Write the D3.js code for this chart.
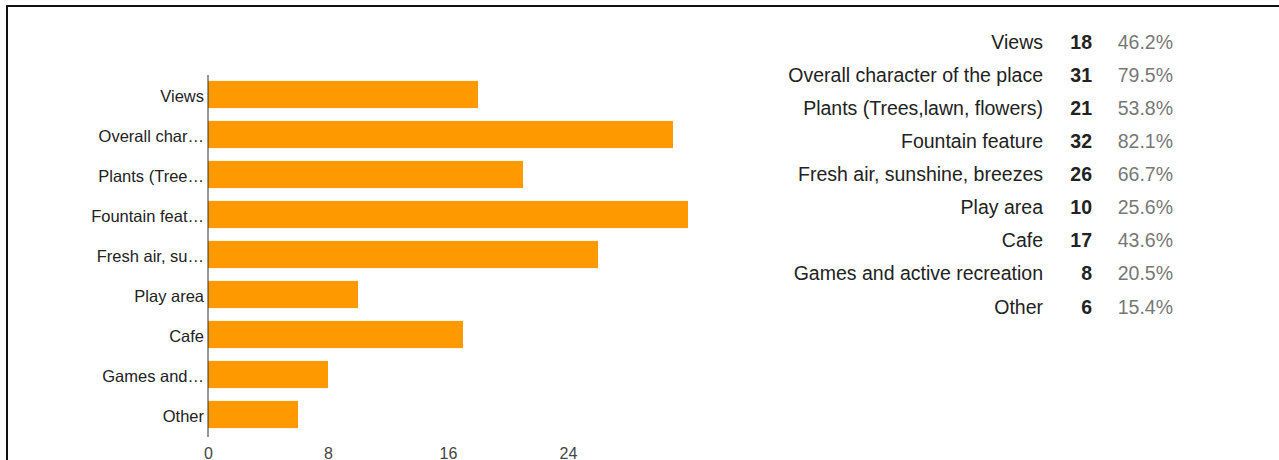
<!DOCTYPE html>
<html>
<head>
<meta charset="utf-8">
<script src="https://d3js.org/d3.v7.min.js"></script>
<style>
  body { margin: 0; background: #fff; }
  text { font-family: Arial, "Liberation Sans", sans-serif; }
</style>
</head>
<body>
<svg id="chart" width="1279" height="460"></svg>
<script>
// answer options (full text for the table, shortened for the axis)
var categories = ["Views", "Overall character of the place", "Plants (Trees,lawn, flowers)",
  "Fountain feature", "Fresh air, sunshine, breezes", "Play area", "Cafe",
  "Games and active recreation", "Other"];
var shortLabels = ["Views", "Overall char\u2026", "Plants (Tree\u2026", "Fountain feat\u2026",
  "Fresh air, su\u2026", "Play area", "Cafe", "Games and\u2026", "Other"];
var counts = [18, 31, 21, 32, 26, 10, 17, 8, 6];
var percents = ["46.2%", "79.5%", "53.8%", "82.1%", "66.7%", "25.6%", "43.6%", "20.5%", "15.4%"];
var xTicks = [0, 8, 16, 24];

var svg = d3.select("#chart");

// frame
svg.append("line").attr("x1", 7).attr("x2", 1279).attr("y1", 6).attr("y2", 6)
  .attr("stroke", "#111").attr("stroke-width", 2);
svg.append("line").attr("x1", 7).attr("x2", 7).attr("y1", 5).attr("y2", 460)
  .attr("stroke", "#111").attr("stroke-width", 2);

var x = d3.scaleLinear().domain([0, 32]).range([208, 688]);
var y = d3.scaleBand().domain(shortLabels).range([74.5, 434.5]).paddingInner(0.32).paddingOuter(0.16);

svg.append("g").selectAll("rect")
  .data(counts)
  .enter().append("rect")
  .attr("x", x(0))
  .attr("y", function(d, i) { return y(shortLabels[i]); })
  .attr("width", function(d) { return x(d) - x(0); })
  .attr("height", y.bandwidth())
  .attr("fill", "#ff9900");

// y axis
var yAxis = svg.append("g")
  .attr("transform", "translate(" + x(0) + ",0)")
  .call(d3.axisLeft(y).tickSize(0).tickPadding(4));
yAxis.select(".domain").attr("stroke", "#333").attr("d", "M0,75V437");
yAxis.selectAll("text").attr("font-size", 16.5).attr("fill", "#222").attr("dy", "0.46em")
  .attr("font-family", "Arial, 'Liberation Sans', sans-serif");

// x axis labels (cut by the bottom edge, as in the original screenshot)
var xAxis = svg.append("g")
  .attr("transform", "translate(0,443)")
  .call(d3.axisBottom(x).tickValues(xTicks).tickSize(0).tickPadding(5));
xAxis.select(".domain").remove();
xAxis.selectAll("text").attr("font-size", 16).attr("fill", "#444")
  .attr("font-family", "Arial, 'Liberation Sans', sans-serif");

// summary table
var rowY = d3.scalePoint().domain(categories).range([49, 313.5]);
var table = svg.append("g");
var rows = table.selectAll("g").data(categories).enter().append("g")
  .attr("transform", function(d) { return "translate(0," + rowY(d) + ")"; });
rows.append("text").attr("x", 1043).attr("text-anchor", "end")
  .attr("font-size", 19.5).attr("fill", "#222").text(function(d) { return d; });
rows.append("text").attr("x", 1092).attr("text-anchor", "end")
  .attr("font-size", 19.5).attr("font-weight", "bold").attr("fill", "#222")
  .text(function(d, i) { return counts[i]; });
rows.append("text").attr("x", 1173).attr("text-anchor", "end")
  .attr("font-size", 19.5).attr("fill", "#777")
  .text(function(d, i) { return percents[i]; });
</script>
</body>
</html>
